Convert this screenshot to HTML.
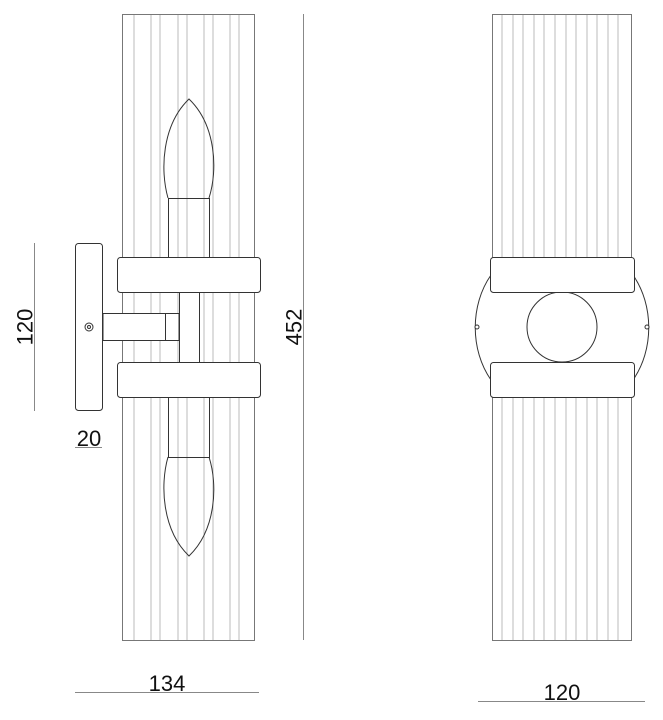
<!DOCTYPE html>
<html><head><style>
html,body{margin:0;padding:0;background:#fff;}
svg{display:block;}
text{font-family:"Liberation Sans",sans-serif;font-size:22px;fill:#111;}
</style></head><body>
<svg width="663" height="720" viewBox="0 0 663 720" xmlns="http://www.w3.org/2000/svg">
<g fill="none" stroke="#bbb" stroke-width="1">
  <path d="M134 14V640M151 14V640M160 14V640M178 14V640M187 14V640M204 14V640M213 14V640M230 14V640M239 14V640"/>
  <path d="M502 14V640M513 14V640M523 14V640M534 14V640M544 14V640M555 14V640M566 14V640M576 14V640M587 14V640M597 14V640M608 14V640M618 14V640"/>
</g>
<g fill="none" stroke="#555" stroke-width="1">
  <rect x="122.5" y="14.5" width="132" height="626" stroke="#777"/>
  <rect x="492.5" y="14.5" width="139" height="626" stroke="#777"/>
</g>
<g fill="none" stroke="#333" stroke-width="1">
  <rect x="168.5" y="198.5" width="41" height="60"/>
  <rect x="168.5" y="397.5" width="41" height="60"/>
  <path d="M168 198 C160 170,162 125,189 99 C216 125,218 170,209 198"/>
  <path d="M168 457 C160 485,162 530,189 556 C216 530,218 485,209 457"/>
</g>
<g fill="#fff" stroke="#333" stroke-width="1">
  <rect x="179.5" y="290" width="20" height="74"/>
  <rect x="103" y="313.5" width="76" height="27"/>
  <line x1="165.5" y1="313.5" x2="165.5" y2="340.5"/>
  <rect x="75.5" y="243.5" width="27" height="167" rx="3"/>
  <circle cx="89" cy="327" r="4"/><circle cx="89" cy="327" r="1.5"/>
  <rect x="117.5" y="257.5" width="143" height="35" rx="3"/>
  <rect x="117.5" y="362.5" width="143" height="35" rx="3"/>
  <path d="M491 275 C470 305,470 350,491 380 L633 380 C654 350,654 305,633 275 Z"/>
  <circle cx="562" cy="327" r="35"/>
  <rect x="490.5" y="257.5" width="144" height="35" rx="3"/>
  <rect x="490.5" y="362.5" width="144" height="35" rx="3"/>
  <circle cx="477" cy="327" r="2"/><circle cx="647" cy="327" r="2"/>
</g>
<g stroke="#888" stroke-width="1" fill="none">
  <line x1="34.5" y1="243" x2="34.5" y2="411"/>
  <line x1="75" y1="447.5" x2="102" y2="447.5"/>
  <line x1="303.5" y1="14" x2="303.5" y2="640"/>
  <line x1="75" y1="692.5" x2="259" y2="692.5"/>
  <line x1="478" y1="701.5" x2="645" y2="701.5"/>
</g>
<text x="25" y="327" text-anchor="middle" dominant-baseline="central" transform="rotate(-90 25 327)">120</text>
<text x="89" y="446" text-anchor="middle">20</text>
<text x="294" y="327" text-anchor="middle" dominant-baseline="central" transform="rotate(-90 294 327)">452</text>
<text x="167" y="691" text-anchor="middle">134</text>
<text x="562" y="700" text-anchor="middle">120</text>
</svg>
</body></html>
